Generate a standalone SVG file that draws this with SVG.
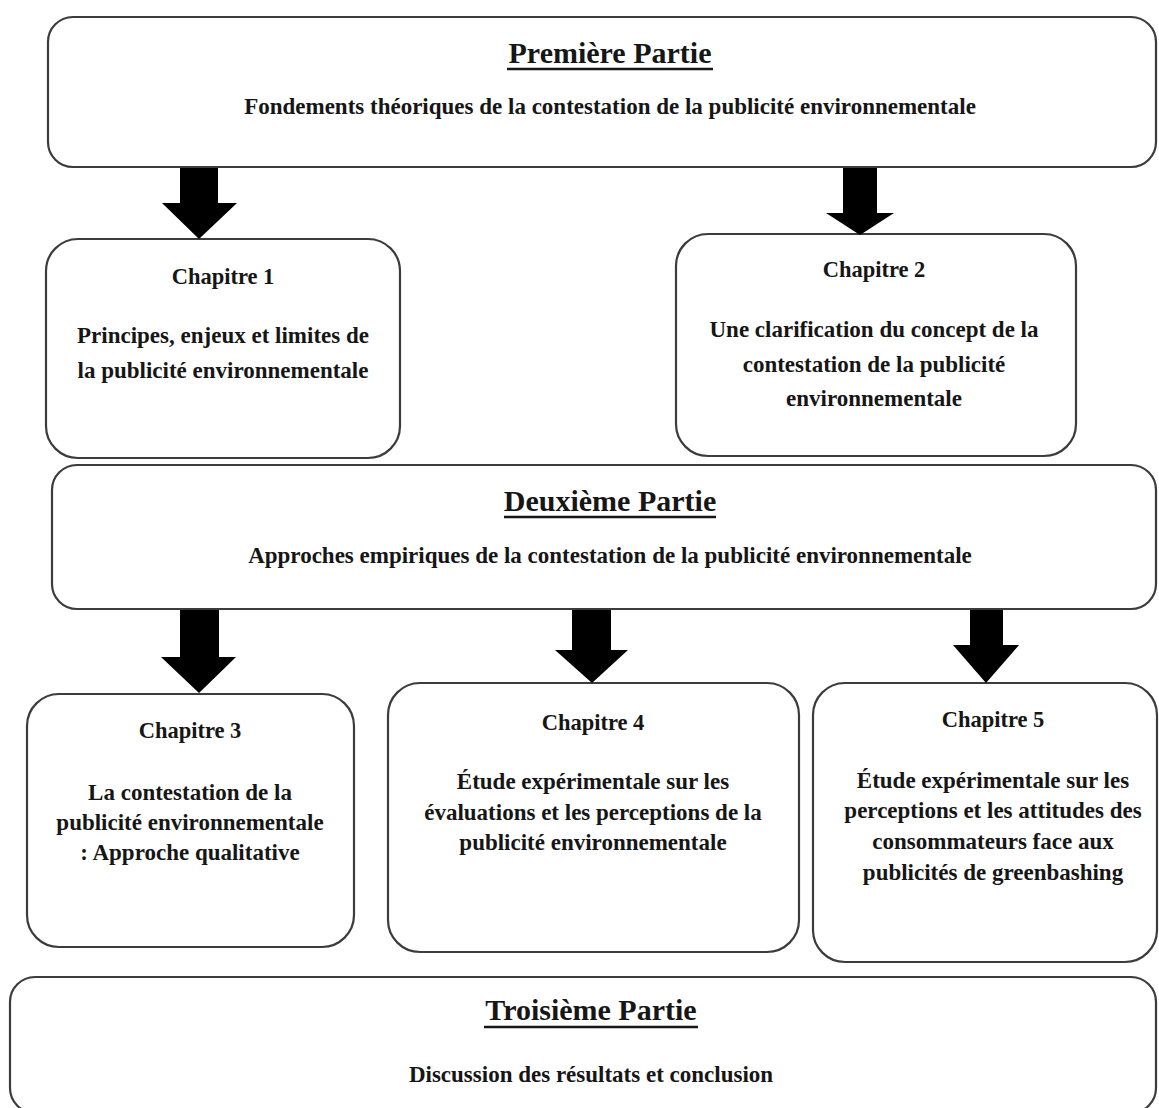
<svg xmlns="http://www.w3.org/2000/svg" width="1159" height="1108" viewBox="0 0 1159 1108">
  <style>
    .box { fill: #ffffff; stroke: #3c3c3c; stroke-width: 2.2; }
    .title { font-family: "Liberation Serif", "Times New Roman", serif; font-weight: bold; font-size: 30px; fill: #161616; text-anchor: middle; }
    .sub { font-family: "Liberation Serif", "Times New Roman", serif; font-weight: bold; font-size: 23px; fill: #161616; text-anchor: middle; }
    .head { font-family: "Liberation Serif", "Times New Roman", serif; font-weight: bold; font-size: 22.5px; fill: #161616; text-anchor: middle; }
    .body { font-family: "Liberation Serif", "Times New Roman", serif; font-weight: bold; font-size: 23px; fill: #161616; text-anchor: middle; }
    .ul { stroke: #161616; stroke-width: 2.5; }
    .arrow { fill: #000000; }
  </style>
  <rect width="1159" height="1108" fill="#ffffff"/>

  <g id="partie1">
    <rect class="box" x="48" y="17" width="1108" height="150" rx="25" ry="25"/>
    <text class="title" x="610" y="63">Première Partie</text>
    <line class="ul" x1="507" y1="69" x2="713" y2="69"/>
    <text class="sub" x="610" y="114">Fondements théoriques de la contestation de la publicité environnementale</text>
  </g>

  <g id="chapitre1">
    <rect class="box" x="46" y="239" width="354" height="219" rx="32" ry="32"/>
    <text class="head" x="223" y="284">Chapitre 1</text>
    <text class="body" x="223" y="343">Principes, enjeux et limites de</text>
    <text class="body" x="223" y="378">la publicité environnementale</text>
  </g>

  <g id="chapitre2">
    <rect class="box" x="676" y="234" width="400" height="222" rx="32" ry="32"/>
    <text class="head" x="874" y="277">Chapitre 2</text>
    <text class="body" x="874" y="337">Une clarification du concept de la</text>
    <text class="body" x="874" y="372">contestation de la publicité</text>
    <text class="body" x="874" y="406">environnementale</text>
  </g>

  <g id="partie2">
    <rect class="box" x="52" y="465" width="1104" height="144" rx="25" ry="25"/>
    <text class="title" x="610" y="511">Deuxième Partie</text>
    <line class="ul" x1="504" y1="517" x2="716" y2="517"/>
    <text class="sub" x="610" y="563">Approches empiriques de la contestation de la publicité environnementale</text>
  </g>

  <g id="chapitre3">
    <rect class="box" x="27" y="694" width="327" height="253" rx="32" ry="32"/>
    <text class="head" x="190" y="738">Chapitre 3</text>
    <text class="body" x="190" y="800">La contestation de la</text>
    <text class="body" x="190" y="830">publicité environnementale</text>
    <text class="body" x="190" y="860">: Approche qualitative</text>
  </g>

  <g id="chapitre4">
    <rect class="box" x="388" y="683" width="411" height="269" rx="32" ry="32"/>
    <text class="head" x="593" y="730">Chapitre 4</text>
    <text class="body" x="593" y="789">Étude expérimentale sur les</text>
    <text class="body" x="593" y="820">évaluations et les perceptions de la</text>
    <text class="body" x="593" y="850">publicité environnementale</text>
  </g>

  <g id="chapitre5">
    <rect class="box" x="813" y="683" width="344" height="279" rx="32" ry="32"/>
    <text class="head" x="993" y="727">Chapitre 5</text>
    <text class="body" x="993" y="788">Étude expérimentale sur les</text>
    <text class="body" x="993" y="818">perceptions et les attitudes des</text>
    <text class="body" x="993" y="849">consommateurs face aux</text>
    <text class="body" x="993" y="880">publicités de greenbashing</text>
  </g>

  <g id="partie3">
    <rect class="box" x="10" y="977" width="1146" height="136" rx="25" ry="25"/>
    <text class="title" x="591" y="1020">Troisième Partie</text>
    <line class="ul" x1="484" y1="1027" x2="698" y2="1027"/>
    <text class="sub" x="591" y="1082">Discussion des résultats et conclusion</text>
  </g>

  <g id="connectors">
    <polygon class="arrow" points="180,168 218,168 218,203 237,203 199,239 162,203 180,203"/>
    <polygon class="arrow" points="843,168 877,168 877,213 894,213 860,235 826,213 843,213"/>
    <polygon class="arrow" points="180,610 219,610 219,657 236,657 199,693 161,657 180,657"/>
    <polygon class="arrow" points="572,610 611,610 611,650 628,650 592,683 555,650 572,650"/>
    <polygon class="arrow" points="970,610 1003,610 1003,645 1019,645 986,683 953,645 970,645"/>
  </g>
</svg>
